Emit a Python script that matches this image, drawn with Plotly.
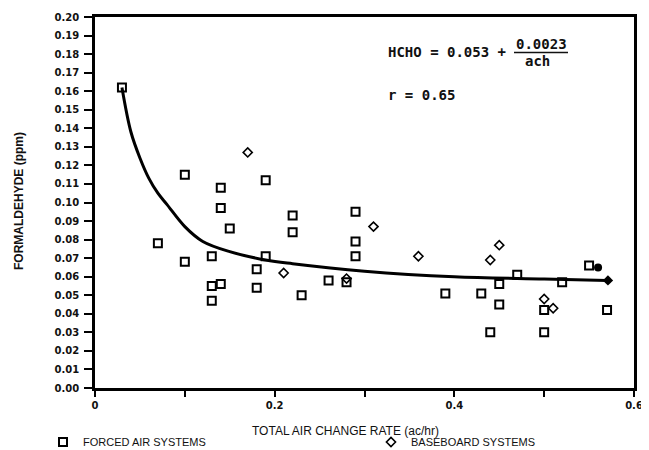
import plotly.graph_objects as go

# ---- data ----
forced_x = [0.030, 0.070, 0.100, 0.100, 0.130, 0.130, 0.130, 0.140, 0.140, 0.140,
            0.150, 0.180, 0.180, 0.190, 0.190, 0.220, 0.220, 0.230, 0.260, 0.280,
            0.290, 0.290, 0.290, 0.390, 0.430, 0.440, 0.450, 0.450, 0.470, 0.500,
            0.500, 0.520, 0.550, 0.570]
forced_y = [0.162, 0.078, 0.115, 0.068, 0.071, 0.055, 0.047, 0.108, 0.097, 0.056,
            0.086, 0.064, 0.054, 0.112, 0.071, 0.093, 0.084, 0.050, 0.058, 0.057,
            0.095, 0.079, 0.071, 0.051, 0.051, 0.030, 0.056, 0.045, 0.061, 0.042,
            0.030, 0.057, 0.066, 0.042]

base_x = [0.170, 0.210, 0.280, 0.310, 0.360, 0.440, 0.450, 0.500, 0.510]
base_y = [0.127, 0.062, 0.059, 0.087, 0.071, 0.069, 0.077, 0.048, 0.043]

filled_x = [0.560, 0.571]
filled_y = [0.065, 0.058]
filled_symbols = ["circle", "diamond"]

fit_x = [0.030, 0.040, 0.050, 0.060, 0.070, 0.080, 0.100, 0.120, 0.150, 0.190,
         0.220, 0.300, 0.400, 0.500, 0.570]
fit_y = [0.162, 0.138, 0.124, 0.113, 0.105, 0.099, 0.087, 0.079, 0.0735, 0.069,
         0.067, 0.063, 0.060, 0.0588, 0.058]

y_ticks = [i / 100 for i in range(0, 21)]
y_ticktext = ["%.2f" % v for v in y_ticks]
x_ticks = [0, 0.1, 0.2, 0.3, 0.4, 0.5, 0.6]
x_ticktext = ["0", "", "0.2", "", "0.4", "", "0.6"]

# The page body has a default 8px margin, so the figure is sized to fit
# inside the 649x450 window; positions below are given in window pixels.
OFF = 8
W, H = 649 - OFF, 450 - OFF
L, T = 95 - OFF, 17 - OFF
R = W - (634 - OFF)
B = H - (388 - OFF)
PW, PH = W - L - R, H - T - B


def px(xp):
    return (xp - OFF - L) / PW


def py(yp):
    return (H - B - (yp - OFF)) / PH


fig = go.Figure()
fig.add_trace(go.Scatter(x=fit_x, y=fit_y, mode="lines",
                         line=dict(color="black", width=3, shape="spline", smoothing=1.0),
                         showlegend=False, hoverinfo="skip"))
fig.add_trace(go.Scatter(x=forced_x, y=forced_y, mode="markers", name="FORCED AIR SYSTEMS",
                         legendwidth=283,
                         marker=dict(symbol="square-open", size=8, color="black", line=dict(width=2, color="black")),
                         cliponaxis=False))
fig.add_trace(go.Scatter(x=base_x, y=base_y, mode="markers", name="BASEBOARD SYSTEMS",
                         legendwidth=120,
                         marker=dict(symbol="diamond-open", size=7, color="black", line=dict(width=1.6, color="black")),
                         cliponaxis=False))
fig.add_trace(go.Scatter(x=filled_x, y=filled_y, mode="markers", showlegend=False,
                         marker=dict(symbol=filled_symbols, size=8, color="black"), cliponaxis=False))

tickfont = dict(family="DejaVu Sans", size=10, color="#111", weight="bold")

fig.update_layout(
    width=W, height=H,
    margin=dict(l=L, r=R, t=T, b=B, autoexpand=False),
    paper_bgcolor="white", plot_bgcolor="white",
    showlegend=True,
    legend=dict(orientation="h", x=px(43), xanchor="left", y=py(442), yanchor="middle",
                font=dict(family="Liberation Sans", size=11, color="#111"),
                bgcolor="rgba(0,0,0,0)"),
    xaxis=dict(range=[0, 0.6], tickvals=x_ticks, ticktext=x_ticktext, ticks="outside", ticklen=6,
               tickwidth=1.5, tickcolor="black", showline=True, linewidth=2.5, linecolor="black", mirror=True,
               showgrid=False, zeroline=False, tickfont=tickfont, ticklabeloverflow="allow"),
    yaxis=dict(range=[0, 0.2], tickvals=y_ticks, ticktext=y_ticktext, ticks="outside", ticklen=8,
               tickwidth=1.5, tickcolor="black", showline=True, linewidth=2.5, linecolor="black", mirror=True,
               showgrid=False, zeroline=False, tickfont=tickfont, ticklabelstandoff=3,
               ticklabeloverflow="allow"),
)

# axis titles placed as in the reference
fig.add_annotation(xref="paper", yref="paper", x=px(345), y=py(431), xanchor="center", yanchor="middle",
                   text="TOTAL AIR CHANGE RATE (ac/hr)", showarrow=False,
                   font=dict(family="Liberation Sans", size=12, color="#111"))
fig.add_annotation(xref="paper", yref="paper", x=px(19), y=py(201), xanchor="center", yanchor="middle",
                   text="FORMALDEHYDE (ppm)", showarrow=False, textangle=-90,
                   font=dict(family="Liberation Sans", size=12, color="#111", weight="bold"))

mono = dict(family="DejaVu Sans Mono", size=14, color="#111", weight="bold")
fig.add_annotation(xref="paper", yref="paper", x=px(386), y=py(51.5), xanchor="left", yanchor="middle",
                   text="HCHO = 0.053 +", showarrow=False, font=mono)
fig.add_annotation(xref="paper", yref="paper", x=px(541), y=py(44), xanchor="center", yanchor="middle",
                   text="0.0023", showarrow=False, font=mono)
fig.add_annotation(xref="paper", yref="paper", x=px(537), y=py(61), xanchor="center", yanchor="middle",
                   text="ach", showarrow=False, font=mono)
fig.add_shape(type="line", xref="paper", yref="paper", x0=px(514), x1=px(568), y0=py(52.5), y1=py(52.5),
              line=dict(color="#111", width=1.5))
fig.add_annotation(xref="paper", yref="paper", x=px(386), y=py(94.5), xanchor="left", yanchor="middle",
                   text="r = 0.65", showarrow=False, font=mono)

fig.write_html("out.html")
